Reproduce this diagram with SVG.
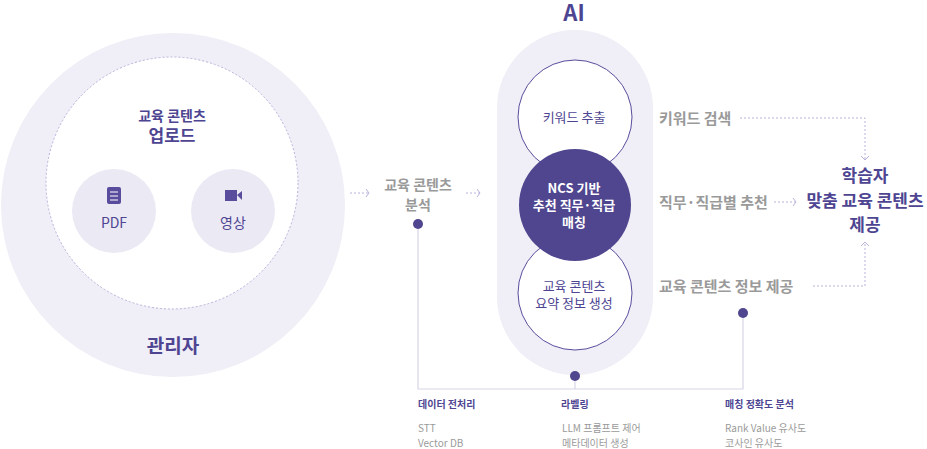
<svg xmlns="http://www.w3.org/2000/svg" width="927" height="449" viewBox="0 0 927 449">
<style>
text{font-family:"Noto Sans CJK KR","Noto Sans",sans-serif;text-anchor:middle}
.p{fill:#4e4592}.g{fill:#9a9a9a}.b{font-weight:700}
.dl{fill:none;stroke:#b9b2dc;stroke-width:1;stroke-dasharray:2 2}
.ln{fill:none;stroke:#d8d6e6;stroke-width:1.2}
.ah{fill:none;stroke:#b9b2dc;stroke-width:1}
</style>
<g id="admin">
<circle cx="173" cy="205" r="172" fill="#f0eef6"/>
<circle cx="172" cy="183" r="126" fill="#fff" stroke="#b9b2dc" stroke-dasharray="2 2"/>
<text x="172" y="121" class="p b" font-size="14">교육 콘텐츠</text>
<text x="172" y="142" class="p b" font-size="17">업로드</text>
<text x="173" y="353" class="p b" font-size="19">관리자</text>
</g>
<g id="pdf">
<circle cx="114" cy="211" r="42" fill="#ebe9f4"/>
<rect x="107" y="187" width="14" height="17" rx="2" fill="#5a4c9c"/>
<path d="M110 192h8M110 196h8M110 200h8" stroke="#fff" stroke-width="1"/>
<text x="114" y="228" class="p" font-size="14">PDF</text>
</g>
<g id="video">
<circle cx="233" cy="211" r="42" fill="#ebe9f4"/>
<rect x="225" y="190" width="12" height="11" fill="#5a4c9c"/>
<path d="M237 195l5-4v9z" fill="#5a4c9c"/>
<text x="233" y="228" class="p" font-size="14">영상</text>
</g>
<g id="analysis">
<text x="418" y="190" class="g b" font-size="14">교육 콘텐츠</text>
<text x="418" y="210" class="g b" font-size="14">분석</text>
</g>
<g id="ai">
<text x="574" y="21" class="p b" font-size="22">AI</text>
<rect x="497" y="30" width="156" height="345" rx="78" fill="#f0eef6"/>
<circle cx="575" cy="117" r="57" fill="#fff" stroke="#5a4c9c" stroke-width="1"/>
<circle cx="575" cy="293" r="57" fill="#fff" stroke="#5a4c9c" stroke-width="1"/>
<circle cx="575" cy="205" r="56" fill="#4f468f"/>
<text x="574" y="122" class="p" font-size="13">키워드 추출</text>
<text x="574" y="193" fill="#fff" class="b" font-size="13">NCS 기반</text>
<text x="574" y="210" fill="#fff" class="b" font-size="13">추천 직무·직급</text>
<text x="574" y="227" fill="#fff" class="b" font-size="13">매칭</text>
<text x="574" y="291" class="p" font-size="13">교육 콘텐츠</text>
<text x="574" y="308" class="p" font-size="13">요약 정보 생성</text>
</g>
<g id="outputs">
<text x="659" y="124" class="g b" font-size="15" style="text-anchor:start">키워드 검색</text>
<text x="659" y="208" class="g b" font-size="15" style="text-anchor:start">직무·직급별 추천</text>
<text x="659" y="292" class="g b" font-size="15" style="text-anchor:start">교육 콘텐츠 정보 제공</text>
</g>
<g id="learner">
<text x="865" y="182" class="p b" font-size="17">학습자</text>
<text x="865" y="207" class="p b" font-size="17">맞춤 교육 콘텐츠</text>
<text x="865" y="231" class="p b" font-size="17">제공</text>
</g>
<g id="labels">
<text x="418" y="408" class="p b" font-size="10" style="text-anchor:start">데이터 전처리</text>
<text x="418" y="432" class="g" font-size="10" style="text-anchor:start">STT</text>
<text x="418" y="447" class="g" font-size="10" style="text-anchor:start">Vector DB</text>
<text x="561" y="408" class="p b" font-size="10" style="text-anchor:start">라벨링</text>
<text x="562" y="432" class="g" font-size="10" style="text-anchor:start">LLM 프롬프트 제어</text>
<text x="562" y="447" class="g" font-size="10" style="text-anchor:start">메타데이터 생성</text>
<text x="725" y="408" class="p b" font-size="10" style="text-anchor:start">매칭 정확도 분석</text>
<text x="725" y="432" class="g" font-size="10" style="text-anchor:start">Rank Value 유사도</text>
<text x="725" y="447" class="g" font-size="10" style="text-anchor:start">코사인 유사도</text>
</g>
<g id="connectors">
<path class="dl" d="M350 193h18M466 193h14"/>
<path class="ah" d="M366 189l3 4-3 4M477 189l3 4-3 4"/>
<path class="dl" d="M740 118H865V159"/>
<path class="ah" d="M861 156l4 4 4-4"/>
<path class="dl" d="M774 202H795"/>
<path class="ah" d="M793 198l3 4-3 4"/>
<path class="dl" d="M813 286H865V243"/>
<path class="ah" d="M861 246l4-4 4 4"/>
<path class="ln" d="M418 224V389H743V313M575 376V389"/>
<circle cx="418" cy="224" r="5" fill="#4f468f"/>
<circle cx="575" cy="376" r="5" fill="#4f468f"/>
<circle cx="743" cy="313" r="5" fill="#4f468f"/>
</g>
</svg>
